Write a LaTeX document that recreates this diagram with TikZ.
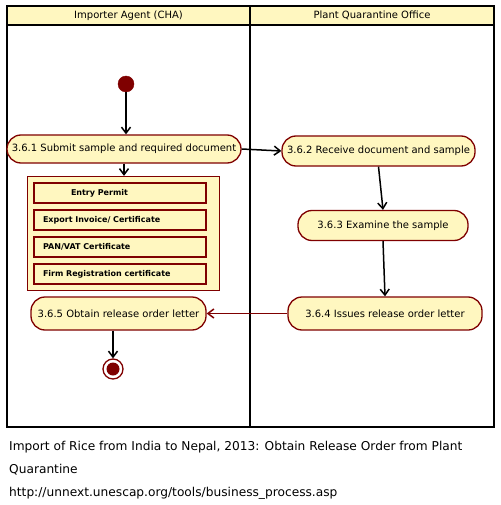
\documentclass[tikz,border=0pt]{standalone}
\usepackage{fontspec}
\setmainfont{DejaVu Sans}
\usetikzlibrary{arrows.meta}
\definecolor{fillY}{HTML}{FFF7C0}
\definecolor{dred}{HTML}{7F0000}
\begin{document}
\begin{tikzpicture}[x=1pt,y=-1pt,
  act/.style={draw=dred,fill=fillY,line width=1.3pt,rounded corners=14pt,minimum height=30pt,inner sep=0pt,font=\fontsize{10}{12}\selectfont},
  docbox/.style={draw=dred,fill=fillY,line width=1.3pt,minimum width=172pt,minimum height=20pt,text width=154pt,align=left,inner sep=0pt,font=\bfseries\fontsize{8}{10}\selectfont},
  flow/.style={-{Straight Barb[length=6pt,width=9pt]},line width=1.5pt},
  lane/.style={draw=black,line width=1.8pt},
  lanehead/.style={font=\fontsize{10}{12}\selectfont},
  caption/.style={anchor=base west,inner sep=0pt,font=\fontsize{12.2}{14}\selectfont}]
\useasboundingbox (0,0) rectangle (500,505);
% swimlanes
\draw[lane,fill=fillY] (7,6) rectangle (250,25);
\draw[lane,fill=fillY] (250,6) rectangle (494,25);
\draw[lane] (7,25) rectangle (250,427);
\draw[lane] (250,25) rectangle (494,427);
\node[lanehead] (h1) at (128.5,15.5) {Importer Agent (CHA)};
\node[lanehead] (h2) at (372,15.5) {Plant Quarantine Office};
% start
\node[circle,fill=dred,draw=dred,minimum size=16pt,inner sep=0pt] (start) at (126,84) {};
% activities
\node[act,minimum width=234pt,minimum height=28pt] (a1) at (124,149) {3.6.1 Submit sample and required document};
\node[act,minimum width=193pt] (a2) at (378.5,151) {3.6.2 Receive document and sample};
\node[act,minimum width=170pt] (a3) at (383,225.5) {3.6.3 Examine the sample};
\node[act,minimum width=194pt,minimum height=33pt] (a4) at (385,313.5) {3.6.4 Issues release order letter};
\node[act,minimum width=175pt,minimum height=33pt] (a5) at (118.5,313.5) {3.6.5 Obtain release order letter};
% documents
\node[draw=dred,fill=fillY,line width=1.3pt,minimum width=192pt,minimum height=114pt,inner sep=0pt] (docs) at (123.5,233.5) {};
\node[docbox] (d1) at (120,193) {\hspace*{28pt}Entry Permit};
\node[docbox] (d2) at (120,220) {Export Invoice/ Certificate};
\node[docbox] (d3) at (120,247) {PAN/VAT Certificate};
\node[docbox] (d4) at (120,274) {Firm Registration certificate};
% end
\node[circle,draw=dred,fill=white,line width=1.3pt,minimum size=20pt,inner sep=0pt] (end) at (113,369) {};
\node[circle,fill=dred,minimum size=13pt,inner sep=0pt] (endin) at (end.center) {};
% flows
\draw[flow] (start.south) -- (a1.north -| start.south);
\draw[flow] (a1.south) -- (docs.north -| a1.south);
\draw[flow] (a1.east) -- (a2.west);
\draw[flow] (a2.south) -- (a3.north);
\draw[flow] (a3.south) -- (a4.north);
\draw[flow,draw=dred] (a4.west) -- (a5.east);
\draw[flow] (a5.south -| end.north) -- (end.north);
% caption
\node[caption] (c1) at (9,450) {Import of Rice from India to Nepal, 2013: Obtain Release Order from Plant};
\node[caption] (c2) at (9,473) {Quarantine};
\node[caption] (c3) at (9,496) {http://unnext.unescap.org/tools/business\_process.asp};
\end{tikzpicture}
\end{document}
